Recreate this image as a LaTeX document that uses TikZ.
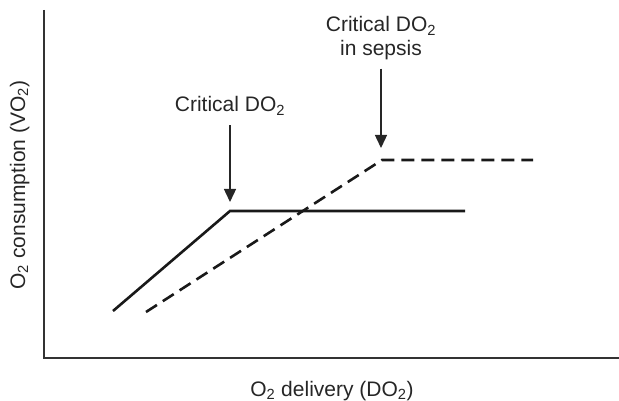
\documentclass[tikz,border=0pt]{standalone}
\usepackage{fontspec}
\setmainfont{Liberation Sans}
\usetikzlibrary{arrows.meta}

\tikzset{
  lbl/.style={font=\fontsize{21}{24}\selectfont, inner sep=0pt, align=center, text=black!85},
  axisline/.style={line width=1.2pt, black!80},
  curve/.style={line width=2.6pt, black!90},
  pointer/.style={line width=1.4pt, black!85, -{Triangle[length=13pt,width=12pt]}},
}

\begin{document}
\begin{tikzpicture}[x=1pt,y=-1pt]
\useasboundingbox (0,0) rectangle (619,401);
% axes
\coordinate (top) at (44,10);
\coordinate (orig) at (44,358);
\coordinate (right) at (619,358);
\draw[axisline] (top) -- (orig) -- (right);
\node[lbl, anchor=base] (xlab) at (332,396) {O\textsubscript{2} delivery (DO\textsubscript{2})};
\node[lbl, rotate=90, anchor=base] (ylab) at (25,185) {O\textsubscript{2} consumption (VO\textsubscript{2})};
% normal curve
\coordinate (s0) at (113,311);
\coordinate (s1) at (230,211);
\coordinate (s2) at (465,211);
\draw[curve, line join=miter] (s0) -- (s1) -- (s2);
% sepsis curve
\coordinate (d0) at (146,312);
\coordinate (d1) at (382,160);
\coordinate (d2) at (533,160);
\draw[curve, dash pattern=on 13pt off 7pt] (d0) -- (d1) -- (d2);
% labels and arrows
\node[lbl, anchor=base] (crit) at (230,112) {Critical DO\textsubscript{2}};
\node[lbl, anchor=base] (critsep) at (381,56) {Critical DO\textsubscript{2}\\in sepsis};
\coordinate (t1) at (230,202);
\coordinate (t2) at (381,148);
\draw[pointer] ([yshift=-10pt]crit.south) -- (t1);
\draw[pointer] ([yshift=-8pt]critsep.south) -- (t2);
\end{tikzpicture}
\end{document}
